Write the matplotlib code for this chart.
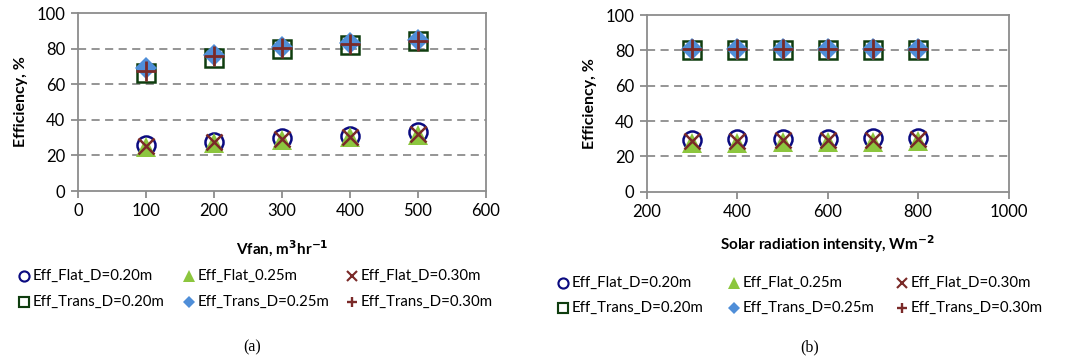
import matplotlib
matplotlib.use('Agg')
import matplotlib.pyplot as plt
from matplotlib.lines import Line2D
import numpy as np

plt.rcParams['font.family'] = ['Lato', 'DejaVu Sans']

# (a) efficiency vs fan flow rate
vfan = [100, 200, 300, 400, 500]
a_flat_020 = [25.7, 27.7, 29.6, 31.0, 33.0]
a_flat_025 = [24.8, 27.2, 28.7, 30.2, 31.4]
a_flat_030 = [25.3, 27.3, 29.0, 30.6, 32.0]
a_trans_020 = [66.5, 75.0, 79.6, 82.2, 84.3]
a_trans_025 = [69.0, 76.6, 80.8, 83.0, 84.9]
a_trans_030 = [67.4, 75.6, 80.2, 82.6, 84.5]

# (b) efficiency vs solar radiation intensity
solar = [300, 400, 500, 600, 700, 800]
b_flat_020 = [29.4, 29.6, 29.8, 30.0, 30.2, 30.4]
b_flat_025 = [27.6, 27.8, 28.0, 28.2, 28.4, 28.6]
b_flat_030 = [28.6, 28.8, 29.0, 29.2, 29.4, 29.6]
b_trans_020 = [80.3, 80.3, 80.3, 80.3, 80.3, 80.3]
b_trans_025 = [81.0, 81.0, 81.0, 81.0, 81.0, 81.0]
b_trans_030 = [80.5, 80.5, 80.5, 80.5, 80.5, 80.5]

labels = ['Eff_Flat_D=0.20m', 'Eff_Flat_0.25m', 'Eff_Flat_D=0.30m',
          'Eff_Trans_D=0.20m', 'Eff_Trans_D=0.25m', 'Eff_Trans_D=0.30m']

# marker styles for the six series
styles = [
    dict(marker='o', mfc='none', mec='#0a0a80', mew=1.8, ms=13),
    dict(marker='^', mfc='#8cc63e', mec='#8cc63e', mew=0, ms=15),
    dict(marker='x', mfc='none', mec='#7a2a28', mew=1.8, ms=12),
    dict(marker='s', mfc='none', mec='#0f3d0f', mew=1.8, ms=12.5),
    dict(marker='D', mfc='#4f8ed8', mec='#4f8ed8', mew=0, ms=11.5),
    dict(marker='+', mfc='none', mec='#7a2a28', mew=2.0, ms=14),
]

fig = plt.figure(figsize=(10.67, 3.6), dpi=100)
W, H = 1067, 360


def legend_block(cols, rows):
    # three columns x two rows, like the Excel legend
    for i, (lab, st) in enumerate(zip(labels, styles)):
        cx = cols[i % 3]
        cy = rows[i // 3]
        s = dict(st)
        s['ms'] = st['ms'] * 0.56
        s['mew'] = st['mew'] * 0.85
        fig.add_artist(Line2D([cx / W], [1 - cy / H], transform=fig.transFigure,
                              linestyle='none', **s))
        fig.text((cx + 8.5) / W, 1 - cy / H, lab, ha='left', va='center', fontsize=10.8)


def make_panel(rect, x, series, xlim, xticks, xlabel, xlab_y, cols, rows, tag, tag_x):
    ax = fig.add_axes(rect)
    for ys, st in zip(series, styles):
        ax.plot(x, ys, linestyle='none', **st)
    ax.set_xlim(*xlim)
    ax.set_ylim(0, 100)
    ax.set_xticks(xticks)
    ax.set_yticks(range(0, 101, 20))
    for yv in [20, 40, 60, 80]:
        ax.axhline(yv, color='#8c8c8c', lw=1.3, ls=(0, (4.5, 3)), zorder=0)
    for s in ax.spines.values():
        s.set_color('#8c8c8c')
        s.set_linewidth(1.3)
    ax.tick_params(direction='out', length=5, width=1.3, color='#8c8c8c',
                   labelsize=12, pad=4)
    ax.set_ylabel('Efficiency, %', fontsize=11.5, fontweight='bold', labelpad=6)
    fig.text((rect[0] + rect[2] / 2), 1 - xlab_y / H, xlabel, ha='center', va='center',
             fontsize=11, fontweight='bold')
    legend_block(cols, rows)
    fig.text(tag_x / W, 1 - 347 / H, tag, ha='center', va='center',
             fontsize=11.5, family='Liberation Serif')
    return ax


make_panel([78 / W, 1 - 191 / H, 408 / W, 178 / H], vfan,
           [a_flat_020, a_flat_025, a_flat_030, a_trans_020, a_trans_025, a_trans_030],
           (0, 600), range(0, 601, 100),
           'Vfan, m$^\\mathbf{3}$hr$^\\mathbf{-1}$', 249,
           [24, 189, 352], [276, 302], '(a)', 252)

make_panel([647 / W, 1 - 191.7 / H, 361.5 / W, 176.7 / H], solar,
           [b_flat_020, b_flat_025, b_flat_030, b_trans_020, b_trans_025, b_trans_030],
           (200, 1000), range(200, 1001, 200),
           'Solar radiation intensity, Wm$^\\mathbf{-2}$', 244,
           [563, 734, 902], [283, 308], '(b)', 810)

fig.savefig('out.png', dpi=100)
